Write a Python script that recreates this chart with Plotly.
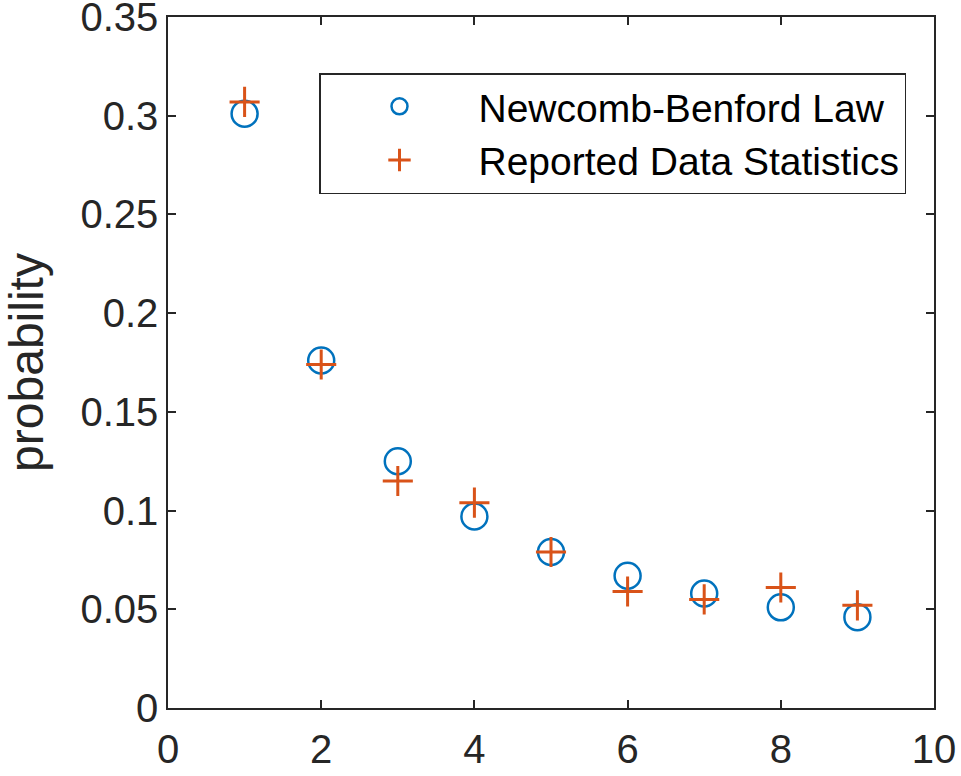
import plotly.graph_objects as go

digits = [1, 2, 3, 4, 5, 6, 7, 8, 9]
benford = [0.301, 0.176, 0.125, 0.097, 0.079, 0.067, 0.058, 0.051, 0.046]
reported = [0.307, 0.174, 0.115, 0.104, 0.079, 0.059, 0.055, 0.061, 0.052]

x_ticks = [0, 2, 4, 6, 8, 10]
y_ticks = [0, 0.05, 0.1, 0.15, 0.2, 0.25, 0.3, 0.35]
y_labels = ["0", "0.05", "0.1", "0.15", "0.2", "0.25", "0.3", "0.35"]

AX = "#262626"
FONT = "Liberation Sans, Arial, Helvetica, sans-serif"

W, H = 961, 776
L, R, T, B = 168, 27, 17, 68

fig = go.Figure()
fig.add_trace(go.Scatter(
    x=digits, y=benford, mode="markers", name="Newcomb-Benford Law",
    marker=dict(symbol="circle-open", size=26, color="#0072BD",
                line=dict(width=2.5, color="#0072BD")),
))
fig.add_trace(go.Scatter(
    x=digits, y=reported, mode="markers", name="Reported Data Statistics",
    marker=dict(symbol="cross-thin-open", size=21.5, color="#D95319",
                line=dict(width=3, color="#D95319")),
))

axis_common = dict(
    showgrid=False, zeroline=False, showline=True, linecolor=AX, linewidth=1.5,
    mirror="ticks", ticks="inside", ticklen=8, tickwidth=1.5, tickcolor=AX,
    tickfont=dict(family=FONT, size=40, color=AX), automargin=False,
    ticklabeloverflow="allow",
)

plot_w = W - L - R
plot_h = H - T - B

fig.update_layout(
    width=W, height=H,
    margin=dict(l=L, r=R, t=T, b=B),
    paper_bgcolor="white", plot_bgcolor="white",
    font=dict(family=FONT, color=AX),
    xaxis=dict(range=[0, 10.00001], tickvals=x_ticks, ticktext=[str(v) for v in x_ticks],
               ticklabelstandoff=5, **axis_common),
    yaxis=dict(range=[0, 0.3500001], tickvals=y_ticks, ticktext=y_labels,
               title=dict(text="probability", font=dict(family=FONT, size=48, color=AX), standoff=38),
               **axis_common),
    legend=dict(
        x=(319 - 168) / plot_w, xanchor="left", y=(708 - 73) / plot_h, yanchor="top",
        bgcolor="white", bordercolor=AX, borderwidth=1.5,
        font=dict(family=FONT, size=39, color="black"),
        itemwidth=148,
    ),
    showlegend=True,
)

# remove the default 8px page margin so the figure fills the window exactly
fig.write_html("out.html", config={"displayModeBar": False},
               post_script="document.body.style.margin='0';")
